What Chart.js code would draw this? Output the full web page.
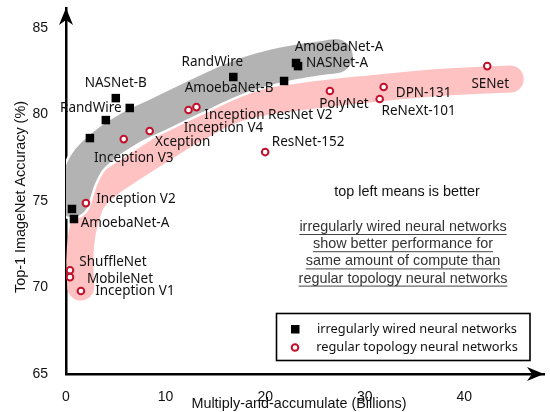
<!DOCTYPE html>
<html>
<head>
<meta charset="utf-8">
<script src="https://cdn.jsdelivr.net/npm/chart.js@4/dist/chart.umd.min.js"></script>
<style>
html,body{margin:0;padding:0;background:#fff;}
#wrap{width:550px;height:412px;position:relative;}
</style>
</head>
<body>
<div id="wrap"><canvas id="c"></canvas></div>
<script>
// ---- data ----
const irregularNames = ['', 'AmoebaNet-A', '', 'RandWire', 'NASNet-B', '', 'RandWire', 'AmoebaNet-B', 'AmoebaNet-A', 'NASNet-A'];
const irregularX = [0.6, 0.8, 2.4, 4.0, 5.0, 6.4, 16.8, 21.9, 23.1, 23.3];
const irregularY = [74.54, 73.96, 78.64, 79.68, 80.95, 80.38, 82.17, 81.94, 82.98, 82.80];

const regularNames = ['Inception V1', 'MobileNet', 'ShuffleNet', 'Inception V2', 'Inception V3', 'Xception', 'Inception V4', 'Inception ResNet V2', 'ResNet-152', 'PolyNet', 'ReNeXt-101', 'DPN-131', 'SENet'];
const regularX = [1.5, 0.4, 0.4, 2.0, 5.8, 8.4, 12.3, 13.1, 20.0, 26.5, 31.5, 31.9, 42.3];
const regularY = [69.8, 70.6, 71.0, 74.88, 78.58, 79.05, 80.26, 80.43, 77.83, 81.36, 80.9, 81.59, 82.8];

// trend bands (hand-drawn highlight curves)
const grayBandX = [0.60, 1.39, 2.69, 6.07, 9.36, 12.65, 17.33, 21.01, 24.30, 27.09];
const grayBandY = [75.06, 76.45, 77.66, 79.10, 80.03, 80.95, 82.17, 82.80, 83.15, 83.38];
const pinkBandX = [1.49, 1.39, 1.59, 2.09, 2.69, 4.18, 6.07, 9.36, 12.65, 17.33, 23.30, 31.27, 38.24, 44.61];
const pinkBandY = [70.03, 71.59, 73.03, 74.19, 75.06, 75.92, 76.68, 77.89, 79.05, 80.38, 81.01, 81.53, 81.88, 82.05];

const xTicks = [0, 10, 20, 30, 40];
const yTicks = [65, 70, 75, 80, 85];
const xTitle = 'Multiply-and-accumulate (Billions)';
const yTitle = 'Top-1 ImageNet Accuracy (%)';
const noteTitle = 'top left means is better';
const noteLines = ['irregularly wired neural networks', 'show better performance for', 'same amount of compute than', 'regular topology neural networks'];
const legendLabels = ['irregularly wired neural networks', 'regular topology neural networks'];

// ---- label placement (pixel offsets from marker) ----
const irregularLabelOffsets = [[0,0],[51,4],[0,0],[-15,-12],[0,-15],[0,0],[-21,-15],[-55,7],[43,-16],[39,-3]];
const regularLabelOffsets = [[54,0],[50,2],[43,-8],[50,-4],[10,19],[33,11],[35,18],[72,8],[43,-10],[14,13],[39,12],[40,6],[3,18]];

const RED = '#c3102a';
const zip = (xs, ys) => xs.map((v, i) => ({x: v, y: ys[i]}));

const overlay = {
  id: 'overlay',
  afterDatasetsDraw(chart) {
    const {ctx, scales: {x, y}} = chart;
    ctx.save();
    ctx.font = '13.5px "Noto Sans"';
    ctx.fillStyle = '#111';
    ctx.textAlign = 'center';
    ctx.textBaseline = 'middle';
    irregularNames.forEach((n, i) => {
      if (!n) return;
      const o = irregularLabelOffsets[i];
      ctx.fillText(n, x.getPixelForValue(irregularX[i]) + o[0], y.getPixelForValue(irregularY[i]) + o[1]);
    });
    regularNames.forEach((n, i) => {
      if (!n) return;
      const o = regularLabelOffsets[i];
      ctx.fillText(n, x.getPixelForValue(regularX[i]) + o[0], y.getPixelForValue(regularY[i]) + o[1]);
    });
    ctx.restore();
  },
  afterDraw(chart) {
    const {ctx, chartArea: ca} = chart;
    ctx.save();
    // arrows
    ctx.fillStyle = '#000';
    const ax = ca.left, ay = ca.bottom;
    ctx.beginPath();
    ctx.moveTo(ax, ca.top);
    ctx.lineTo(ax + 7, ca.top + 17);
    ctx.lineTo(ax, ca.top + 12);
    ctx.lineTo(ax - 7, ca.top + 17);
    ctx.closePath();
    ctx.fill();
    ctx.beginPath();
    ctx.moveTo(ca.right, ay);
    ctx.lineTo(ca.right - 17, ay - 7);
    ctx.lineTo(ca.right - 12, ay);
    ctx.lineTo(ca.right - 17, ay + 7);
    ctx.closePath();
    ctx.fill();

    // axis titles
    ctx.fillStyle = '#111';
    ctx.font = '14.4px "Liberation Sans", Arial, sans-serif';
    ctx.textAlign = 'center';
    ctx.textBaseline = 'middle';
    ctx.fillText(xTitle, 299, 404);
    ctx.save();
    ctx.translate(21, 197);
    ctx.rotate(-Math.PI / 2);
    ctx.fillText(yTitle, 0, 0);
    ctx.restore();

    // note text
    ctx.fillStyle = '#111';
    ctx.fillText(noteTitle, 407, 192);
    ctx.fillStyle = '#333';
    ctx.strokeStyle = '#444';
    ctx.lineWidth = 1;
    noteLines.forEach((t, i) => {
      const cy = 227 + i * 17.2;
      ctx.fillText(t, 403, cy);
      const w = ctx.measureText(t).width;
      ctx.beginPath();
      ctx.moveTo(403 - w / 2, cy + 7.5);
      ctx.lineTo(403 + w / 2, cy + 7.5);
      ctx.stroke();
    });

    // legend
    ctx.strokeStyle = '#000';
    ctx.lineWidth = 1.6;
    ctx.strokeRect(276.5, 313.5, 253.5, 47);
    ctx.fillStyle = '#000';
    ctx.fillRect(291, 325, 8.5, 8.5);
    ctx.beginPath();
    ctx.arc(295, 347.5, 3.3, 0, Math.PI * 2);
    ctx.fillStyle = '#fff';
    ctx.fill();
    ctx.strokeStyle = RED;
    ctx.lineWidth = 2;
    ctx.stroke();
    ctx.fillStyle = '#111';
    ctx.font = '12.8px "Noto Sans"';
    ctx.textAlign = 'center';
    ctx.fillText(legendLabels[0], 417, 329);
    ctx.fillText(legendLabels[1], 417, 347);
    ctx.restore();
  }
};

const noPad = (s) => { s.paddingTop = 0; s.paddingBottom = 0; s.paddingLeft = 0; s.paddingRight = 0; };

new Chart(document.getElementById('c'), {
  type: 'scatter',
  data: {
    datasets: [
      {
        label: legendLabels[0],
        data: zip(irregularX, irregularY),
        pointStyle: 'rect',
        pointRadius: 6,
        backgroundColor: '#000',
        borderColor: '#000',
        borderWidth: 0,
        order: 0
      },
      {
        label: legendLabels[1],
        data: zip(regularX, regularY),
        pointStyle: 'circle',
        pointRadius: 3.3,
        backgroundColor: '#fff',
        borderColor: RED,
        borderWidth: 2,
        order: 0
      },
      {
        type: 'line',
        label: 'gray band',
        data: zip(grayBandX, grayBandY),
        borderColor: '#b3b3b3',
        borderWidth: 34,
        borderCapStyle: 'round',
        borderJoinStyle: 'round',
        tension: 0.4,
        pointRadius: 0,
        fill: false,
        clip: 0,
        order: 1
      },
      {
        type: 'line',
        label: 'gray band edge',
        data: zip(grayBandX, grayBandY),
        borderColor: '#ffffff',
        borderWidth: 39,
        borderCapStyle: 'round',
        borderJoinStyle: 'round',
        tension: 0.4,
        pointRadius: 0,
        fill: false,
        clip: 0,
        order: 2
      },
      {
        type: 'line',
        label: 'pink band',
        data: zip(pinkBandX, pinkBandY),
        borderColor: '#ffc2c2',
        borderWidth: 27,
        borderCapStyle: 'round',
        borderJoinStyle: 'round',
        tension: 0.4,
        pointRadius: 0,
        fill: false,
        clip: 0,
        order: 3
      }
    ]
  },
  options: {
    responsive: true,
    maintainAspectRatio: false,
    animation: false,
    layout: {padding: {left: 0, right: 2, top: 8, bottom: 0}},
    plugins: {legend: {display: false}, tooltip: {enabled: false}},
    scales: {
      x: {
        type: 'linear',
        min: 0,
        max: 48,
        grid: {display: false},
        border: {display: true, color: '#000', width: 2.5},
        afterBuildTicks: (s) => { s.ticks = xTicks.map(v => ({value: v})); },
        afterFit: (s) => { s.height = 38; noPad(s); },
        ticks: {
          color: '#111',
          padding: 7,
          maxRotation: 0,
          font: {family: '"Liberation Sans", Arial, sans-serif', size: 14}
        }
      },
      y: {
        type: 'linear',
        min: 65,
        max: 86.16,
        grid: {display: false},
        border: {display: true, color: '#000', width: 2.5},
        afterBuildTicks: (s) => { s.ticks = yTicks.map(v => ({value: v})); },
        afterFit: (s) => { s.width = 66; noPad(s); },
        ticks: {
          color: '#111',
          padding: 10,
          font: {family: '"Liberation Sans", Arial, sans-serif', size: 14}
        }
      }
    }
  },
  plugins: [overlay]
});
</script>
</body>
</html>
